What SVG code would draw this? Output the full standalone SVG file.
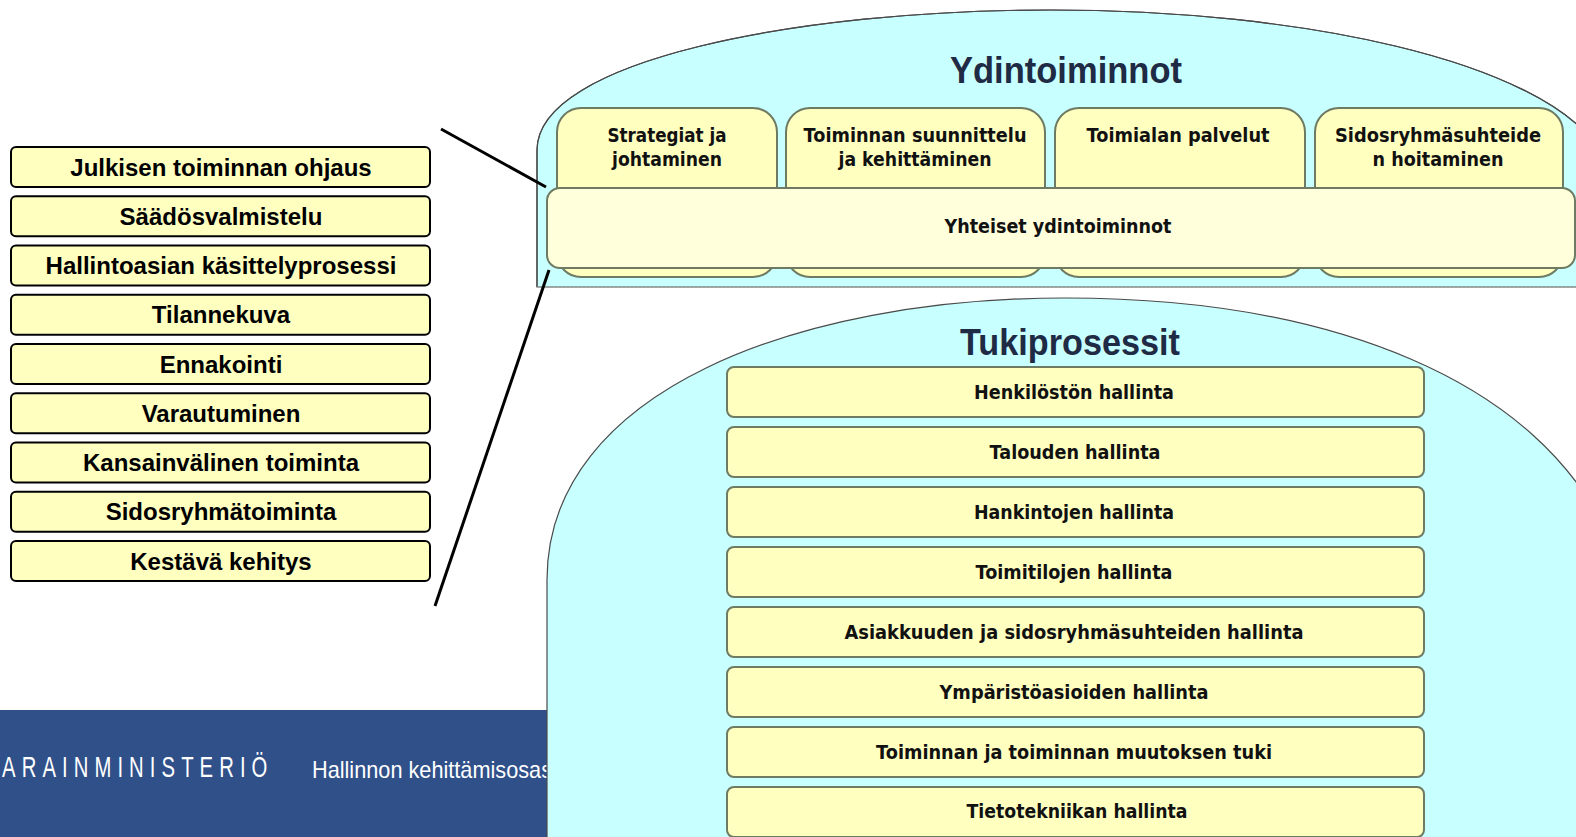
<svg xmlns="http://www.w3.org/2000/svg" width="1576" height="837" viewBox="0 0 1576 837">
<defs>
<style>
.lbox{fill:#FFFFC0;stroke:#000;stroke-width:2}
.ltxt{font-family:"Liberation Sans",Arial,sans-serif;font-weight:bold;font-size:24px;fill:#000;text-anchor:middle}
.dome{fill:#C8FFFF;stroke:#4a4a4a;stroke-width:1.2}
.tab{fill:#FFFFC0;stroke:#6E7A62;stroke-width:2}
.bar{fill:#FFFFDC;stroke:#6E7A62;stroke-width:2}
.tbox{fill:#FFFFC0;stroke:#6E7A62;stroke-width:2}
.ttxt{font-family:"DejaVu Sans",Verdana,sans-serif;font-weight:bold;font-size:19px;fill:#111;text-anchor:middle}
.title{font-family:"Liberation Sans",Arial,sans-serif;font-weight:bold;font-size:37px;fill:#1F2A44;text-anchor:middle}
.conn{stroke:#000;stroke-width:3;fill:none}
</style>
</defs>
<rect width="1576" height="837" fill="#fff"/>

<g id="banner">
<rect x="0" y="710" width="560" height="127" fill="#30508A"/>
<text transform="scale(0.7,1)" x="3" y="777" font-family="'Liberation Sans',Arial,sans-serif" font-size="29" fill="#fff" textLength="379" lengthAdjust="spacing">ARAINMINISTERIÖ</text>
<text transform="scale(0.8,1)" x="390" y="778" font-family="'Liberation Sans',Arial,sans-serif" font-size="23" fill="#fff" textLength="300" lengthAdjust="spacingAndGlyphs">Hallinnon kehittämisosas</text>
</g>

<g id="left-list">
<g id="l1"><rect class="lbox" x="11" y="147" width="419" height="40" rx="5"/><text class="ltxt" x="221" y="175.5">Julkisen toiminnan ohjaus</text></g>
<g id="l2"><rect class="lbox" x="11" y="196.25" width="419" height="40" rx="5"/><text class="ltxt" x="221" y="224.75">Säädösvalmistelu</text></g>
<g id="l3"><rect class="lbox" x="11" y="245.5" width="419" height="40" rx="5"/><text class="ltxt" x="221" y="274">Hallintoasian käsittelyprosessi</text></g>
<g id="l4"><rect class="lbox" x="11" y="294.75" width="419" height="40" rx="5"/><text class="ltxt" x="221" y="323.25">Tilannekuva</text></g>
<g id="l5"><rect class="lbox" x="11" y="344" width="419" height="40" rx="5"/><text class="ltxt" x="221" y="372.5">Ennakointi</text></g>
<g id="l6"><rect class="lbox" x="11" y="393.25" width="419" height="40" rx="5"/><text class="ltxt" x="221" y="421.75">Varautuminen</text></g>
<g id="l7"><rect class="lbox" x="11" y="442.5" width="419" height="40" rx="5"/><text class="ltxt" x="221" y="471">Kansainvälinen toiminta</text></g>
<g id="l8"><rect class="lbox" x="11" y="491.75" width="419" height="40" rx="5"/><text class="ltxt" x="221" y="520.25">Sidosryhmätoiminta</text></g>
<g id="l9"><rect class="lbox" x="11" y="541" width="419" height="40" rx="5"/><text class="ltxt" x="221" y="569.5">Kestävä kehitys</text></g>
</g>

<g id="ydintoiminnot">
<path class="dome" d="M537,287 L537,150 C537,60 800,10 1050,10 C1300,10 1540,60 1600,150 L1600,287 Z" stroke="none"/>
<path fill="none" stroke="#4a4a4a" stroke-width="1.2" d="M537,287 L537,150 C537,60 800,10 1050,10 C1300,10 1540,60 1600,150"/>
<line x1="537" y1="287" x2="1576" y2="287" stroke="#aaa" stroke-width="1.2" stroke-dasharray="2,2"/>
<text class="title" x="1066" y="83" textLength="232" lengthAdjust="spacingAndGlyphs">Ydintoiminnot</text>
<g id="tab1"><rect class="tab" x="557" y="108" width="220" height="169" rx="24"/>
<text class="ttxt" x="667" y="142" textLength="119" lengthAdjust="spacingAndGlyphs">Strategiat ja</text>
<text class="ttxt" x="667" y="166" textLength="110" lengthAdjust="spacingAndGlyphs">johtaminen</text></g>
<g id="tab2"><rect class="tab" x="786" y="108" width="259" height="169" rx="24"/>
<text class="ttxt" x="915" y="142" textLength="223" lengthAdjust="spacingAndGlyphs">Toiminnan suunnittelu</text>
<text class="ttxt" x="915" y="166" textLength="153" lengthAdjust="spacingAndGlyphs">ja kehittäminen</text></g>
<g id="tab3"><rect class="tab" x="1055" y="108" width="250" height="169" rx="24"/>
<text class="ttxt" x="1178" y="142" textLength="183" lengthAdjust="spacingAndGlyphs">Toimialan palvelut</text></g>
<g id="tab4"><rect class="tab" x="1315" y="108" width="248" height="169" rx="24"/>
<text class="ttxt" x="1438" y="142" textLength="206" lengthAdjust="spacingAndGlyphs">Sidosryhmäsuhteide</text>
<text class="ttxt" x="1438" y="166" textLength="131" lengthAdjust="spacingAndGlyphs">n hoitaminen</text></g>
<g id="yhteiset"><rect class="bar" x="547" y="188" width="1028" height="80" rx="13"/>
<text class="ttxt" x="1058" y="233" textLength="227" lengthAdjust="spacingAndGlyphs">Yhteiset ydintoiminnot</text></g>
</g>

<g id="tukiprosessit">
<path class="dome" d="M547,850 L547,580 C547,390 800,298 1065,298 C1330,298 1540,380 1610,540 L1610,850 Z"/>
<text class="title" x="1070" y="355" textLength="220" lengthAdjust="spacingAndGlyphs">Tukiprosessit</text>
<g id="t1"><rect class="tbox" x="727" y="367" width="697" height="50" rx="7"/><text class="ttxt" x="1074" y="399" textLength="200" lengthAdjust="spacingAndGlyphs">Henkilöstön hallinta</text></g>
<g id="t2"><rect class="tbox" x="727" y="427" width="697" height="50" rx="7"/><text class="ttxt" x="1075" y="459" textLength="171" lengthAdjust="spacingAndGlyphs">Talouden hallinta</text></g>
<g id="t3"><rect class="tbox" x="727" y="487" width="697" height="50" rx="7"/><text class="ttxt" x="1074" y="519" textLength="200" lengthAdjust="spacingAndGlyphs">Hankintojen hallinta</text></g>
<g id="t4"><rect class="tbox" x="727" y="547" width="697" height="50" rx="7"/><text class="ttxt" x="1074" y="579" textLength="197" lengthAdjust="spacingAndGlyphs">Toimitilojen hallinta</text></g>
<g id="t5"><rect class="tbox" x="727" y="607" width="697" height="50" rx="7"/><text class="ttxt" x="1074" y="639" textLength="459" lengthAdjust="spacingAndGlyphs">Asiakkuuden ja sidosryhmäsuhteiden hallinta</text></g>
<g id="t6"><rect class="tbox" x="727" y="667" width="697" height="50" rx="7"/><text class="ttxt" x="1074" y="699" textLength="269" lengthAdjust="spacingAndGlyphs">Ympäristöasioiden hallinta</text></g>
<g id="t7"><rect class="tbox" x="727" y="727" width="697" height="50" rx="7"/><text class="ttxt" x="1074" y="759" textLength="396" lengthAdjust="spacingAndGlyphs">Toiminnan ja toiminnan muutoksen tuki</text></g>
<g id="t8"><rect class="tbox" x="727" y="787" width="697" height="50" rx="7"/><text class="ttxt" x="1077" y="818" textLength="221" lengthAdjust="spacingAndGlyphs">Tietotekniikan hallinta</text></g>
</g>

<g id="connectors">
<line class="conn" x1="441" y1="129" x2="546" y2="187"/>
<line class="conn" x1="549" y1="270" x2="435" y2="606"/>
</g>
</svg>
